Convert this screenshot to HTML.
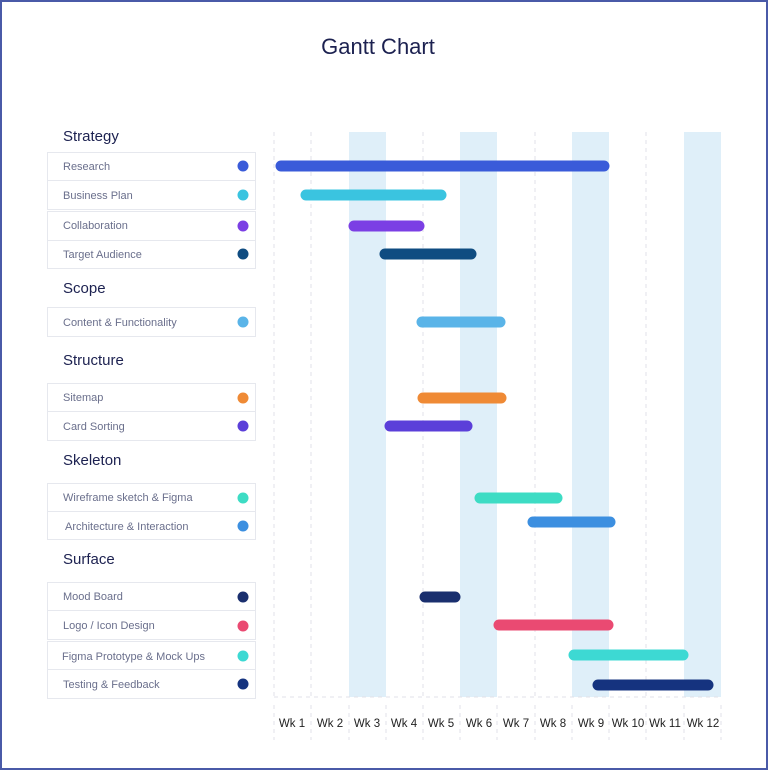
<!DOCTYPE html>
<html><head><style>
html,body{margin:0;padding:0;background:#fff}
svg{display:block}
text{font-family:"Liberation Sans",sans-serif}
</style></head><body>
<svg width="768" height="770" viewBox="0 0 768 770" xmlns="http://www.w3.org/2000/svg">
<rect x="1" y="1" width="766" height="768" fill="#fff" stroke="#4a5aa8" stroke-width="2"/>
<text x="378" y="54" text-anchor="middle" font-size="22" fill="#1c2150">Gantt Chart</text>
<g fill="#dfeff9">
<rect x="349" y="132" width="37" height="565"/>
<rect x="460" y="132" width="37" height="565"/>
<rect x="572" y="132" width="37" height="565"/>
<rect x="684" y="132" width="37" height="565"/>
</g>
<g stroke="#e2e2e8" stroke-width="1" stroke-dasharray="4,4">
<line x1="274" y1="132" x2="274" y2="697"/><line x1="311" y1="132" x2="311" y2="697"/>
<line x1="423" y1="132" x2="423" y2="697"/><line x1="535" y1="132" x2="535" y2="697"/>
<line x1="646" y1="132" x2="646" y2="697"/>
<line x1="274" y1="697" x2="721" y2="697"/>
<line x1="274" y1="705" x2="274" y2="740"/><line x1="311" y1="705" x2="311" y2="740"/>
<line x1="349" y1="705" x2="349" y2="740"/><line x1="386" y1="705" x2="386" y2="740"/>
<line x1="423" y1="705" x2="423" y2="740"/><line x1="460" y1="705" x2="460" y2="740"/>
<line x1="497" y1="705" x2="497" y2="740"/><line x1="535" y1="705" x2="535" y2="740"/>
<line x1="572" y1="705" x2="572" y2="740"/><line x1="609" y1="705" x2="609" y2="740"/>
<line x1="646" y1="705" x2="646" y2="740"/><line x1="684" y1="705" x2="684" y2="740"/>
<line x1="721" y1="705" x2="721" y2="740"/>
</g>
<g font-size="11.5" fill="#222" text-anchor="middle">
<text x="292" y="727">Wk 1</text><text x="330" y="727">Wk 2</text><text x="367" y="727">Wk 3</text>
<text x="404" y="727">Wk 4</text><text x="441" y="727">Wk 5</text><text x="479" y="727">Wk 6</text>
<text x="516" y="727">Wk 7</text><text x="553" y="727">Wk 8</text><text x="591" y="727">Wk 9</text>
<text x="628" y="727">Wk 10</text><text x="665" y="727">Wk 11</text><text x="703" y="727">Wk 12</text>
</g>
<g font-size="15" fill="#1c2150">
<text x="63" y="141">Strategy</text><text x="63" y="293">Scope</text>
<text x="63" y="365">Structure</text><text x="63" y="465">Skeleton</text>
<text x="63" y="564">Surface</text>
</g>
<g fill="#fff" stroke="#e6e8ee" stroke-width="1">
<rect x="47.5" y="152.5" width="208" height="28"/><rect x="47.5" y="180.5" width="208" height="29"/>
<rect x="47.5" y="211.5" width="208" height="29"/><rect x="47.5" y="240.5" width="208" height="28"/>
<rect x="47.5" y="307.5" width="208" height="29"/>
<rect x="47.5" y="383.5" width="208" height="28"/><rect x="47.5" y="411.5" width="208" height="29"/>
<rect x="47.5" y="483.5" width="208" height="28"/><rect x="47.5" y="511.5" width="208" height="28"/>
<rect x="47.5" y="582.5" width="208" height="28"/><rect x="47.5" y="610.5" width="208" height="29"/>
<rect x="47.5" y="641.5" width="208" height="28"/><rect x="47.5" y="669.5" width="208" height="29"/>
</g>
<g font-size="11" fill="#6a6f8c">
<text x="63" y="170">Research</text><text x="63" y="199">Business Plan</text>
<text x="63" y="229">Collaboration</text><text x="63" y="258">Target Audience</text>
<text x="63" y="326">Content &amp; Functionality</text>
<text x="63" y="401">Sitemap</text><text x="63" y="430">Card Sorting</text>
<text x="63" y="501">Wireframe sketch &amp; Figma</text><text x="65" y="530">Architecture &amp; Interaction</text>
<text x="63" y="600">Mood Board</text><text x="63" y="629">Logo / Icon Design</text>
<text x="62" y="660">Figma Prototype &amp; Mock Ups</text><text x="63" y="688">Testing &amp; Feedback</text>
</g>
<g>
<circle cx="243" cy="166" r="5.5" fill="#3a5bd9"/><circle cx="243" cy="195" r="5.5" fill="#3ac4e0"/>
<circle cx="243" cy="226" r="5.5" fill="#7b3fe4"/><circle cx="243" cy="254" r="5.5" fill="#0f4c81"/>
<circle cx="243" cy="322" r="5.5" fill="#5ab4e8"/>
<circle cx="243" cy="398" r="5.5" fill="#ef8a35"/><circle cx="243" cy="426" r="5.5" fill="#5b3fd9"/>
<circle cx="243" cy="498" r="5.5" fill="#3ddcc4"/><circle cx="243" cy="526" r="5.5" fill="#3c8fe0"/>
<circle cx="243" cy="597" r="5.5" fill="#1a2f6e"/><circle cx="243" cy="626" r="5.5" fill="#ea4a72"/>
<circle cx="243" cy="656" r="5.5" fill="#3dd9d3"/><circle cx="243" cy="684" r="5.5" fill="#15337f"/>
</g>
<g stroke-linecap="round" stroke-width="11">
<line x1="281" y1="166" x2="604" y2="166" stroke="#3a5bd9"/>
<line x1="306" y1="195" x2="441" y2="195" stroke="#3ac4e0"/>
<line x1="354" y1="226" x2="419" y2="226" stroke="#7b3fe4"/>
<line x1="385" y1="254" x2="471" y2="254" stroke="#0f4c81"/>
<line x1="422" y1="322" x2="500" y2="322" stroke="#5ab4e8"/>
<line x1="423" y1="398" x2="501" y2="398" stroke="#ef8a35"/>
<line x1="390" y1="426" x2="467" y2="426" stroke="#5b3fd9"/>
<line x1="480" y1="498" x2="557" y2="498" stroke="#3ddcc4"/>
<line x1="533" y1="522" x2="610" y2="522" stroke="#3c8fe0"/>
<line x1="425" y1="597" x2="455" y2="597" stroke="#1a2f6e"/>
<line x1="499" y1="625" x2="608" y2="625" stroke="#ea4a72"/>
<line x1="574" y1="655" x2="683" y2="655" stroke="#3dd9d3"/>
<line x1="598" y1="685" x2="708" y2="685" stroke="#15337f"/>
</g>
</svg>
</body></html>
